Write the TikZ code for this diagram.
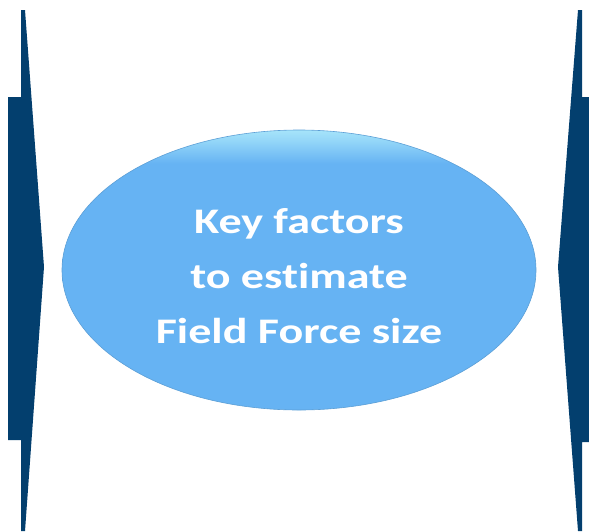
\documentclass[tikz,border=0pt]{standalone}
\usepackage{fontspec}
\setmainfont{Carlito}
\usetikzlibrary{shapes.geometric}
\definecolor{barblue}{HTML}{033F6E}
\definecolor{capblue}{HTML}{66B3F3}
\definecolor{capglow}{HTML}{A6E4FA}
\definecolor{capedge}{HTML}{5C9FD6}
\pgfdeclareverticalshading{capshade}{100bp}{color(0bp)=(capblue); color(69bp)=(capblue); color(73bp)=(capglow!70!capblue); color(75bp)=(capglow); color(100bp)=(capglow)}

\begin{document}
\begin{tikzpicture}[x=1pt, y=-1pt,
 bar/.style={fill=barblue, draw=none},
 core/.style={ellipse, draw=capedge, line width=.6pt, shading=capshade, minimum width=474pt, minimum height=280pt, inner sep=0pt},
 caption/.style={align=center, text=white, inner sep=0pt, font=\fontsize{36}{55}\selectfont\bfseries\addfontfeature{FakeStretch=1.28,Ligatures=NoCommon}}]
\useasboundingbox (0,0) rectangle (589,531);
% left bracket
\fill[bar] (21,10) -- (25,10) -- (44,267) -- (25,531) -- (21,531) -- (21,440) -- (8,440) -- (8,97) -- (21,97) -- cycle;
% right bracket
\fill[bar] (582,10) -- (578,10) -- (558,267) -- (578,531) -- (582,531) -- (582,442) -- (589,442) -- (589,97) -- (582,97) -- cycle;
% centre
\node[core] (keys) at (299,270) {};
\node[caption] (keystext) at ([yshift=-6pt]keys.center) {Key factors\\to estimate\\Field Force size};
\end{tikzpicture}
\end{document}
